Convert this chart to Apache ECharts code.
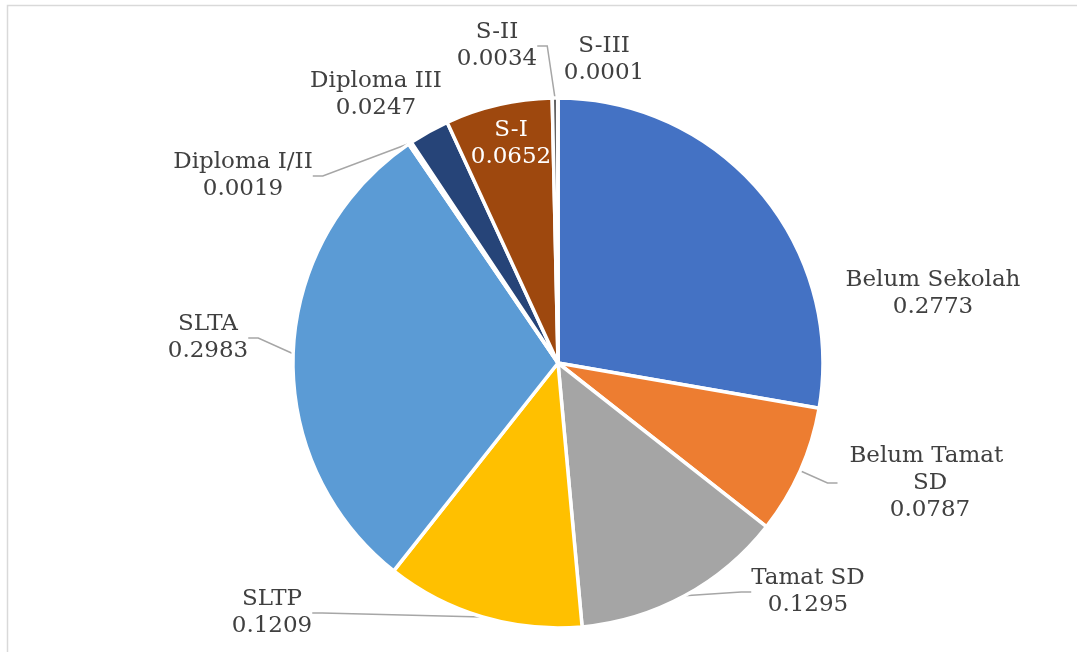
<!DOCTYPE html>
<html>
<head>
<meta charset="utf-8">
<script src="https://cdn.jsdelivr.net/npm/echarts@6/dist/echarts.min.js"></script>
<style>
  html, body { margin: 0; padding: 0; background: #fff; }
  #main { width: 1077px; height: 652px; }
</style>
</head>
<body>
<div id="main"></div>
<script>
var myChart = echarts.init(document.getElementById('main'));

// education level shares, clockwise from 12 o'clock
var categories = ['Belum Sekolah', 'Belum Tamat SD', 'Tamat SD', 'SLTP', 'SLTA',
                  'Diploma I/II', 'Diploma III', 'S-I', 'S-II', 'S-III'];
var values = [0.2773, 0.0787, 0.1295, 0.1209, 0.2983, 0.0019, 0.0247, 0.0652, 0.0034, 0.0001];
var colors = ['#4472C4', '#ED7D31', '#A5A5A5', '#FFC000', '#5B9BD5',
              '#70AD47', '#264478', '#9E480E', '#636363', '#997300'];

// where each label sits (centre of the text block)
var labelSpots = [[933, 294], [930, 483], [808, 592], [272, 613], [208, 338],
                  [243, 176], [376, 95], [511, 144], [497, 46], [604, 60]];
var noLine = { 'Belum Sekolah': 1, 'Diploma III': 1, 'S-I': 1, 'S-III': 1 };

var pieData = categories.map(function (name, i) {
    var item = { name: name, value: values[i], itemStyle: { color: colors[i] } };
    if (noLine[name]) item.labelLine = { show: false };
    if (name === 'S-I') item.label = { color: '#fff' };
    if (name === 'Belum Tamat SD') item.label = { width: 185, overflow: 'break' };
    return item;
});

option = {
    backgroundColor: '#fff',
    animation: false,
    graphic: [{
        type: 'rect',
        shape: { x: 7.5, y: 5.5, width: 1200, height: 800 },
        style: { fill: 'none', stroke: '#d9d9d9', lineWidth: 1.5 },
        silent: true
    }],
    series: [{
        type: 'pie',
        center: [558, 363],
        radius: 265,
        startAngle: 90,
        clockwise: true,
        avoidLabelOverlap: false,
        itemStyle: { borderColor: '#fff', borderWidth: 3.5 },
        label: {
            show: true,
            formatter: '{b}\n{c}',
            fontFamily: 'DejaVu Serif',
            fontSize: 23,
            lineHeight: 27,
            color: '#404040',
            align: 'center'
        },
        labelLine: {
            show: true,
            length: 15,
            length2: 10,
            lineStyle: { color: '#a6a6a6', width: 1.5 }
        },
        labelLayout: function (p) {
            var s = labelSpots[p.dataIndex];
            return { x: s[0], y: s[1], align: 'center', verticalAlign: 'middle' };
        },
        data: pieData
    }]
};

myChart.setOption(option);
</script>
</body>
</html>
